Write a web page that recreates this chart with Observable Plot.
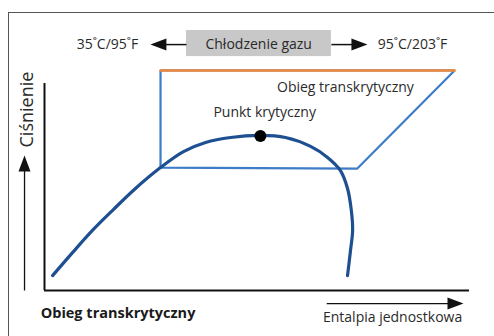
<!DOCTYPE html>
<html>
<head>
<meta charset="utf-8">
<script src="https://cdn.jsdelivr.net/npm/d3@7"></script>
<script src="https://cdn.jsdelivr.net/npm/@observablehq/plot@0.6"></script>
<style>
  html, body { margin: 0; padding: 0; background: #fff; overflow: hidden; }
  #wrap { position: relative; width: 494px; height: 336px; }
  #frame { position: absolute; left: 8px; top: 12px; width: 500px; height: 340px;
           border-left: 1.5px solid #555; border-top: 1.5px solid #555; box-sizing: border-box; }
  #chart { position: absolute; left: 0; top: 0; }
</style>
</head>
<body>
<div id="wrap"><div id="frame"></div><div id="chart"></div></div>
<script>
// Saturation dome (enthalpy h, pressure p) in arbitrary units
const domeH = [1.9, 6.8, 11.5, 16.2, 21.4, 27.3, 32.7, 37.9, 43.8, 50.8, 56.7, 62.6, 66.6, 69.6, 71.3, 72.2, 72.5, 72.0, 71.3];
const domeP = [7.2, 18.8, 29.5, 39.1, 49.3, 59.4, 67.1, 71.5, 73.9, 74.9, 73.9, 69.6, 64.3, 58.0, 49.3, 38.6, 29.0, 19.3, 7.2];
// Transcritical cycle corners
const cycleH = [27.3, 27.3, 96.5, 73.6, 27.3];
const cycleP = [59.4, 106.3, 106.3, 58.9, 59.4];
// Gas cooling line (top edge)
const coolH = [27.3, 96.5];
const coolP = [106.3, 106.3];
// Critical point
const critH = [50.8];
const critP = [74.6];
// Labels
const labels = ["35˚C/95˚F", "Chłodzenie gazu", "95˚C/203˚F", "Obieg transkrytyczny", "Punkt krytyczny"];
const labelH = [14.8, 50.4, 86.6, 70.8, 51.8];
const labelP = [118.8, 118.8, 118.8, 98.1, 86.0];

const dome = domeH.map((h, i) => ({h, p: domeP[i]}));
const cycle = cycleH.map((h, i) => ({h, p: cycleP[i]}));
const cool = coolH.map((h, i) => ({h, p: coolP[i]}));
const crit = critH.map((h, i) => ({h, p: critP[i]}));
const labs = labels.map((t, i) => ({t, h: labelH[i], p: labelP[i]}));

// custom arrowhead symbol (points up before rotation)
const head = {
  draw(ctx, size) {
    const k = Math.sqrt(size / Math.PI);
    ctx.moveTo(0, -k);
    ctx.lineTo(0.75 * k, k);
    ctx.lineTo(-0.75 * k, k);
    ctx.closePath();
  }
};

const font = "'Open Sans', 'Noto Sans', sans-serif";
const ink = "#2a2a2a";

const chart = Plot.plot({
  width: 494,
  height: 336,
  marginLeft: 44,
  marginRight: 25,
  marginTop: 83,
  marginBottom: 46,
  x: {domain: [0, 100], axis: null},
  y: {domain: [0, 100], axis: null},
  style: {fontFamily: font, background: "transparent", overflow: "visible"},
  marks: [
    // gray box behind "Chłodzenie gazu"
    Plot.rect([{x1: 33.4, x2: 67.5, y1: 113.0, y2: 125.6}], {x1: "x1", x2: "x2", y1: "y1", y2: "y2", fill: "#c8c8c8"}),
    // header arrows
    Plot.link([{x1: 33.4, x2: 28.0, y: 118.8}, {x1: 67.5, x2: 72.5, y: 118.8}], {x1: "x1", x2: "x2", y1: "y", y2: "y", stroke: "#111", strokeWidth: 1.5}),
    Plot.dot([{x: 26.8, y: 118.8, a: -90}, {x: 74.1, y: 118.8, a: 90}], {x: "x", y: "y", rotate: "a", symbol: head, r: 8, fill: "#111", stroke: "none"}),
    // axes
    Plot.ruleX([0], {y1: 0, y2: 100, stroke: "#111", strokeWidth: 2}),
    Plot.ruleY([0], {x1: 0, x2: 100, stroke: "#111", strokeWidth: 2}),
    // axis arrows
    Plot.link([{x: -4.7, y1: 0, y2: 58}], {x1: "x", x2: "x", y1: "y1", y2: "y2", stroke: "#111", strokeWidth: 1.3}),
    Plot.dot([{x: -4.7, y: 61.4, a: 0}], {x: "x", y: "y", rotate: "a", symbol: head, r: 8, fill: "#111", stroke: "none"}),
    Plot.link([{x1: 66.4, x2: 95.0, y: -6.3}], {x1: "x1", x2: "x2", y1: "y", y2: "y", stroke: "#111", strokeWidth: 1.3}),
    Plot.dot([{x: 96.7, y: -6.3, a: 90}], {x: "x", y: "y", rotate: "a", symbol: head, r: 8, fill: "#111", stroke: "none"}),
    // cycle
    Plot.line(cycle, {x: "h", y: "p", stroke: "#3f7cc7", strokeWidth: 2.2, strokeLinejoin: "miter"}),
    Plot.line(cool, {x: "h", y: "p", stroke: "#f08a3a", strokeWidth: 2.6}),
    // saturation dome
    Plot.line(dome, {x: "h", y: "p", curve: "catmull-rom", stroke: "#1d4f91", strokeWidth: 3.2, strokeLinecap: "round"}),
    Plot.dot(crit, {x: "h", y: "p", r: 6, fill: "#000"}),
    // texts
    Plot.text(labs, {x: "h", y: "p", text: "t", fontSize: 14, fill: ink}),
    Plot.text(["Ciśnienie"], {x: -4.0, y: 87.4, text: d => d, rotate: -90, fontSize: 18, fill: ink}),
    Plot.text(["Obieg transkrytyczny"], {x: 17.3, y: -11.1, text: d => d, fontSize: 14.5, fontWeight: "bold", fill: "#1a1a1a"}),
    Plot.text(["Entalpia jednostkowa"], {x: 81.9, y: -13.0, text: d => d, fontSize: 14, fill: ink})
  ]
});
document.getElementById("chart").appendChild(chart);
</script>
</body>
</html>
